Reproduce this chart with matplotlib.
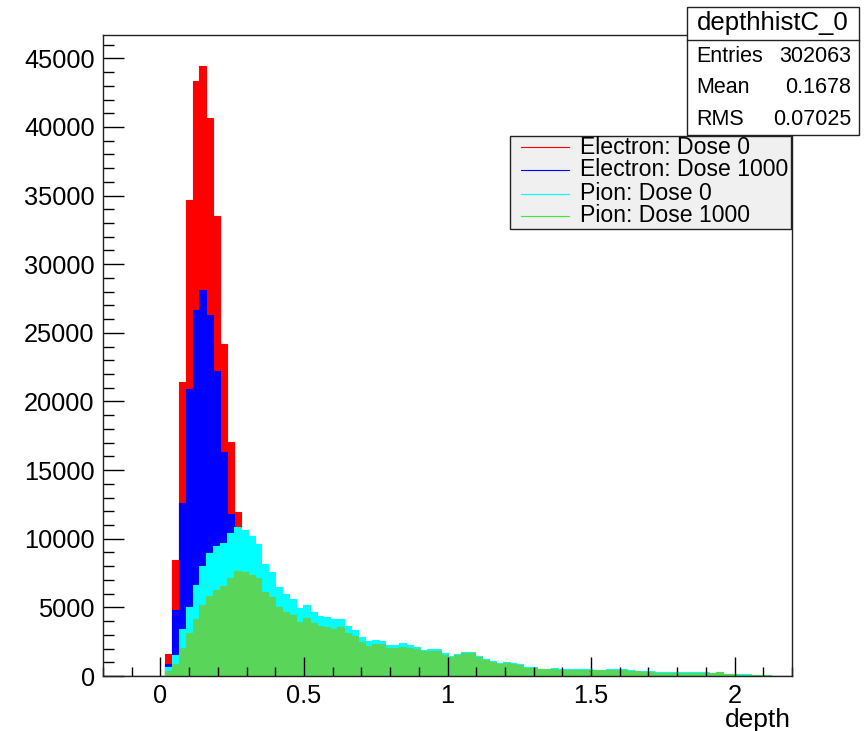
import numpy as np
import matplotlib
matplotlib.use("Agg")
import matplotlib.pyplot as plt
from matplotlib.ticker import MultipleLocator, FuncFormatter
from matplotlib.patches import Rectangle
from matplotlib.lines import Line2D

plt.rcParams['font.family'] = ['Liberation Sans', 'DejaVu Sans']

# ---- data -------------------------------------------------------------
n_bins = 100
x_min, x_max = -0.2, 2.2
first_bin = 9  # index of first non-empty bin

electron_dose0 = [1570, 8425, 21434, 34682, 43315, 44447, 40636, 33491, 24203,
                  17058, 11967, 7800, 5000, 3200, 2000, 1200, 700, 400, 250,
                  150, 100, 60, 40, 20]
electron_dose1000 = [850, 4800, 12590, 20930, 26700, 28130, 26320, 22240,
                     16330, 11800, 8000, 5200, 3300, 2000, 1200, 700, 400,
                     250, 150, 100, 60, 30]
pion_dose0 = [680, 1529, 3398, 5047, 6625, 8030, 8930, 9464, 9658, 10386,
              10823, 10629, 10192, 9610, 8154, 7547, 6455, 5970, 5581, 4926,
              5144, 4634, 4392, 4270, 4125, 4150, 3640, 3349, 2815, 2524,
              2597, 2572, 2233, 2233, 2378, 2257, 2087, 1893, 1941, 1941,
              1650, 1456, 1602, 1771, 1747, 1432, 1262, 1116, 970, 995,
              922, 849, 655, 631, 534, 510, 558, 510, 510, 510,
              485, 485, 461, 461, 510, 510, 485, 413, 400, 364,
              340, 267, 267, 290, 290, 267, 260, 255, 255, 250,
              320, 150, 150, 120, 110, 90, 70, 50, 25]
pion_dose1000 = [388, 849, 2014, 3106, 4125, 5170, 5824, 6260, 6552, 7170,
                 7668, 7596, 7353, 7159, 6140, 5775, 5047, 4682, 4441, 3956,
                 4198, 3834, 3664, 3543, 3398, 3543, 3107, 2912, 2500, 2208,
                 2330, 2330, 2063, 2063, 2136, 2063, 1941, 1820, 1844, 1844,
                 1529, 1359, 1529, 1699, 1674, 1359, 1189, 1043, 898, 922,
                 849, 777, 582, 558, 485, 485, 510, 461, 461, 437,
                 413, 413, 413, 413, 461, 461, 461, 364, 364, 315,
                 315, 218, 218, 243, 243, 218, 218, 218, 218, 218,
                 291, 121, 121, 97, 97, 80, 60, 40, 20]

series_labels = ["Electron: Dose 0", "Electron: Dose 1000",
                 "Pion: Dose 0", "Pion: Dose 1000"]
fill_colors = ["#ff0000", "#0000ff", "#00ffff", "#59d559"]
legend_line_colors = ["#ff0000", "#0000ff", "#00ffff", "#33ee33"]

stats_name = "depthhistC_0"
stats_rows = [("Entries", "302063"), ("Mean", "0.1678"), ("RMS", "0.07025")]
x_label = "depth"


def full(vals):
    arr = np.zeros(n_bins)
    arr[first_bin:first_bin + len(vals)] = vals
    return arr


edges = np.linspace(x_min, x_max, n_bins + 1)

# ---- figure -----------------------------------------------------------
W, H = 864, 731
fig = plt.figure(figsize=(W / 100, H / 100), dpi=100)
fig.patch.set_facecolor("white")

L, R, T, B = 103, 792, 35, 676
ax = fig.add_axes([L / W, 1 - B / H, (R - L) / W, (B - T) / H])

for vals, col in zip([electron_dose0, electron_dose1000, pion_dose0, pion_dose1000],
                     fill_colors):
    h = full(vals)
    ax.stairs(h, edges, fill=True, color=col, lw=0)
    ax.stairs(h, edges, color=col, lw=0.8)

ax.set_xlim(x_min, x_max)
ax.set_ylim(0, 46700)

ax.xaxis.set_major_locator(MultipleLocator(0.5))
ax.xaxis.set_minor_locator(MultipleLocator(0.1))
ax.yaxis.set_major_locator(MultipleLocator(5000))
ax.yaxis.set_minor_locator(MultipleLocator(1000))
ax.xaxis.set_major_formatter(FuncFormatter(lambda v, p: "%g" % v))
ax.yaxis.set_major_formatter(FuncFormatter(lambda v, p: "%d" % round(v)))

ax.tick_params(axis="x", which="major", direction="in", length=19 * 0.72,
               width=1, labelsize=18.3, pad=5.5, top=False)
ax.tick_params(axis="x", which="minor", direction="in", length=9.5 * 0.72,
               width=1, top=False)
ax.tick_params(axis="y", which="major", direction="in", length=21 * 0.72,
               width=1, labelsize=18.3, pad=6, right=False)
ax.tick_params(axis="y", which="minor", direction="in", length=10.5 * 0.72,
               width=1, right=False)
for sp in ax.spines.values():
    sp.set_linewidth(1.0)
    sp.set_color("#222222")

fig.text(791 / W, 1 - 719.5 / H, x_label, ha="right", va="center", fontsize=19)

# ---- stats box --------------------------------------------------------
def fx(px):
    return px / W


def fy(py):
    return 1 - py / H


sx0, sx1, sy0, sy1 = 687, 859, 7, 135
fig.patches.append(Rectangle((fx(sx0), fy(sy1)), fx(sx1) - fx(sx0), fy(sy0) - fy(sy1),
                             transform=fig.transFigure, facecolor="white",
                             edgecolor="#222222", lw=1.0, zorder=5))
fig.lines.append(Line2D([fx(sx0), fx(sx1)], [fy(39.5), fy(39.5)],
                        transform=fig.transFigure, color="#222222", lw=1.0, zorder=6))
fig.text(fx(773), fy(23), stats_name, ha="center", va="center", fontsize=18.5, zorder=7)
for (lab, val), yy in zip(stats_rows, [56, 87.5, 119.5]):
    fig.text(fx(696), fy(yy), lab, ha="left", va="center", fontsize=15.5, zorder=7)
    fig.text(fx(851), fy(yy), val, ha="right", va="center", fontsize=15.5, zorder=7)

# ---- legend -----------------------------------------------------------
lx0, lx1, ly0, ly1 = 509.5, 790.5, 136, 228.5
fig.patches.append(Rectangle((fx(lx0), fy(ly1)), fx(lx1) - fx(lx0), fy(ly0) - fy(ly1),
                             transform=fig.transFigure, facecolor="#f0f0f0",
                             edgecolor="#222222", lw=1.0, zorder=5))
for lab, col, yy in zip(series_labels, legend_line_colors, [147, 170, 193.5, 216]):
    fig.lines.append(Line2D([fx(521), fx(569)], [fy(yy), fy(yy)],
                            transform=fig.transFigure, color=col, lw=0.8, zorder=6))
    fig.text(fx(580), fy(yy), lab, ha="left", va="center", fontsize=16.6, zorder=7)

fig.savefig("out.png", dpi=100, facecolor="white")
